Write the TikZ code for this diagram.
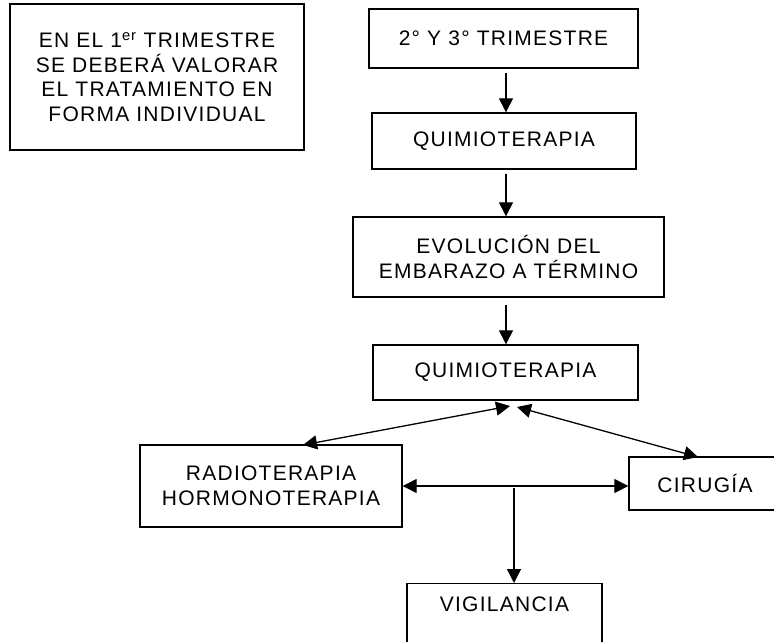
\documentclass[tikz,border=0pt]{standalone}
\usepackage{fontspec}
\setmainfont{Liberation Sans}[LetterSpace=6]
\usetikzlibrary{arrows.meta}
\tikzset{
  box/.style={draw=black, line width=1.4pt, fill=white, rectangle, inner sep=0pt, align=center, font=\fontsize{21}{24.7}\selectfont},
  txt/.style={inner sep=0pt, align=center, font=\fontsize{21}{24.7}\selectfont},
  arr/.style={line width=1.3pt, -{Triangle[length=14pt,width=14pt]}},
  darr/.style={line width=1.3pt, {Triangle[length=14pt,width=14pt]}-{Triangle[length=14pt,width=14pt]}}
}
\begin{document}
\begin{tikzpicture}[x=1pt,y=-1pt]
\useasboundingbox (0,0) rectangle (774,642);
\fill[white] (0,0) rectangle (774,642);
\clip (0,0) rectangle (774,642);
\node[box, minimum width=294pt, minimum height=146pt] (first) at (157,77)
  {EN EL 1\textsuperscript{er} TRIMESTRE\\SE DEBERÁ VALORAR\\EL TRATAMIENTO EN\\FORMA INDIVIDUAL};
\node[box, minimum width=269pt, minimum height=59pt] (tri) at (503.5,38.5) {2° Y 3° TRIMESTRE};
\node[box, minimum width=264pt, minimum height=56pt] (qa) at (504,141) {QUIMIOTERAPIA};
\node[box, minimum width=311pt, minimum height=80pt] (evo) at (508.5,257) {EVOLUCIÓN DEL\\EMBARAZO A TÉRMINO};
\node[box, minimum width=265pt, minimum height=55pt] (qb) at (505.5,372.5) {QUIMIOTERAPIA};
\node[box, minimum width=262pt, minimum height=82pt] (radio) at (271,486) {RADIOTERAPIA\\HORMONOTERAPIA};
\node[box, minimum width=152pt, minimum height=53pt] (ciru) at (705,483.5) {CIRUGÍA};
\node[box, minimum width=195pt, minimum height=75pt, anchor=north] (vig) at (504.5,583) {};
\node[txt] (vigtxt) at (504.5,604) {VIGILANCIA};

\draw[arr, shorten <=4pt] (tri.south -| 506,0) -- (qa.north -| 506,0);
\draw[arr, shorten <=4pt] (qa.south -| 506,0) -- (evo.north -| 506,0);
\draw[arr, shorten <=7pt] (evo.south -| 506,0) -- (qb.north -| 506,0);

\coordinate (tl) at (510,406);
\coordinate (tr) at (517,407);
\coordinate (rt) at (303,445);
\coordinate (ct) at (698,457);
\coordinate (hj) at (514,486);
\draw[darr] (rt) -- (tl);
\draw[darr] (tr) -- (ct);
\draw[darr] (radio.east) -- (ciru.west |- radio.east);
\draw[arr, shorten <=2pt] (hj) -- (vig.north -| hj);
\end{tikzpicture}
\end{document}
